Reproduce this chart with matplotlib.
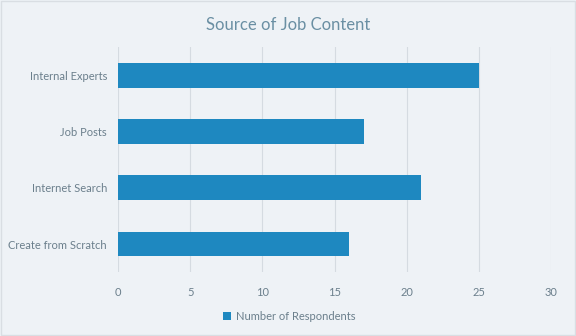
import matplotlib.pyplot as plt
from matplotlib.patches import Rectangle

categories = ['Create from Scratch', 'Internet Search', 'Job Posts', 'Internal Experts']
respondents = [16, 21, 17, 25]
ticks = [0, 5, 10, 15, 20, 25, 30]

bg = '#EEF2F6'
bar_color = '#1E88C0'
text_color = '#6B7F8C'

plt.rcParams['font.family'] = ['Lato', 'DejaVu Sans']

fig = plt.figure(figsize=(5.76, 3.36), dpi=100, facecolor=bg)
ax = fig.add_axes([0.205, 0.19, 0.752, 0.67])
ax.set_facecolor(bg)

ax.barh(categories, respondents, height=0.44, color=bar_color, zorder=3,
        label='Number of Respondents')

ax.set_xlim(0, 30)
ax.set_ylim(-0.5, 3.5)
ax.set_xticks(ticks)
ax.grid(axis='x', color='#D5DBE1', linewidth=0.8, zorder=0)
for s in ax.spines.values():
    s.set_visible(False)
ax.tick_params(axis='both', length=0, colors=text_color, labelsize=8)
ax.tick_params(axis='x', pad=11)
ax.tick_params(axis='y', pad=8)

fig.suptitle('Source of Job Content', x=0.5, y=0.95, fontsize=12, color='#6A8FA3')

leg = fig.legend(loc='center', bbox_to_anchor=(0.502, 0.058), frameon=False,
                 fontsize=8, handlelength=0.7, handleheight=0.7, handletextpad=0.4)
for t in leg.get_texts():
    t.set_color(text_color)

fig.patches.append(Rectangle((0.002, 0.003), 0.996, 0.994, transform=fig.transFigure,
                             fill=False, edgecolor='#D9DEE3', linewidth=1))

fig.savefig('out.png', dpi=100, facecolor=bg)
